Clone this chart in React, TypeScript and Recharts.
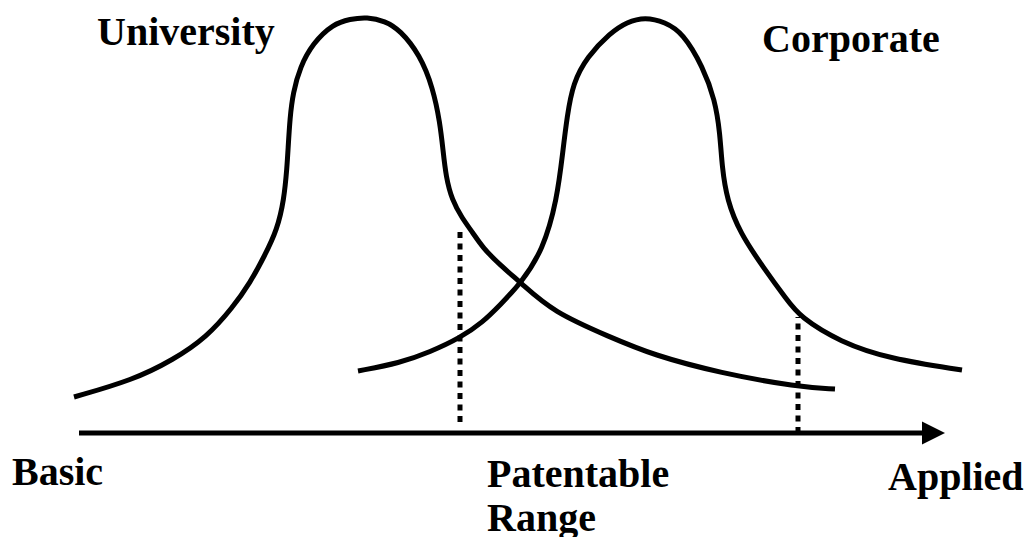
import React from "react";
import { LineChart, Line, XAxis, YAxis, ReferenceLine, Customized } from "recharts";

// Horizontal position along the Basic -> Applied axis
const universityPosition = [74, 133, 173, 207, 233, 250, 265, 277, 284, 287, 288, 290, 293, 300, 313, 333, 350, 367, 385, 400, 420, 433, 440, 443, 446, 452, 462, 473, 483, 500, 521, 553, 610, 653, 720, 798, 835];
// Height of the University curve above the axis
const universityLevel = [36, 53, 73, 96, 126, 150, 178, 203, 233, 266, 283, 316, 340, 366, 390, 409, 414, 416, 412, 403, 378, 345, 310, 283, 256, 233, 215, 200, 185, 168, 150, 121, 96, 78, 60, 46, 44];

const corporatePosition = [358, 400, 430, 460, 483, 500, 521, 543, 557, 563, 567, 573, 587, 610, 627, 645, 665, 683, 703, 715, 720, 722, 727, 740, 763, 787, 800, 840, 890, 962];
const corporateLevel = [62, 70, 81, 95, 111, 128, 150, 183, 233, 283, 316, 350, 376, 400, 411, 416, 411, 400, 366, 333, 300, 266, 233, 200, 166, 133, 116, 91, 74, 63];

// Patentable range boundaries (dotted lines)
const rangeMarkers = [
  { position: 460, bottom: 11, top: 203 },
  { position: 798, bottom: 0, top: 116 },
];

const axisStart = 79;
const axisEnd = 945;

const universityData = universityPosition.map((x, i) => ({ x, y: universityLevel[i] }));
const corporateData = corporatePosition.map((x, i) => ({ x, y: corporateLevel[i] }));

const FONT = "'Liberation Serif', 'Times New Roman', 'DejaVu Serif', serif";

const labels = [
  { text: "University", x: 97, y: 45 },
  { text: "Corporate", x: 762, y: 52 },
  { text: "Basic", x: 12, y: 485 },
  { text: "Patentable", x: 487, y: 487 },
  { text: "Range", x: 487, y: 531 },
  { text: "Applied", x: 888, y: 490 },
];

const Labels = () => (
  <g>
    {labels.map((l) => (
      <text
        key={l.text}
        x={l.x}
        y={l.y}
        style={{ fontFamily: FONT, fontWeight: 700, fontSize: 40 }}
        fill="#000"
      >
        {l.text}
      </text>
    ))}
  </g>
);

const ArrowAxis = (props: any) => {
  const { x1, y1, x2 } = props;
  const head = 23;
  return (
    <g>
      <line x1={x1} y1={y1} x2={x2 - head + 2} y2={y1} stroke="#000" strokeWidth={5} />
      <polygon points={`${x2 - head},${y1 - 11.5} ${x2},${y1} ${x2 - head},${y1 + 11.5}`} fill="#000" />
    </g>
  );
};

export default function App() {
  return (
    <div style={{ position: "absolute", left: 0, top: 0, width: 1030, height: 537, background: "#fff" }}>
      <LineChart width={1030} height={537} margin={{ top: 0, right: 0, bottom: 0, left: 0 }}>
        <XAxis type="number" dataKey="x" domain={[0, 1030]} hide allowDataOverflow />
        <YAxis type="number" domain={[-104, 433]} hide allowDataOverflow />
        <ReferenceLine
          segment={[{ x: axisStart, y: 0 }, { x: axisEnd, y: 0 }]}
          stroke="#000"
          shape={ArrowAxis}
          ifOverflow="visible"
        />
        {rangeMarkers.map((m) => (
          <ReferenceLine
            key={m.position}
            segment={[{ x: m.position, y: m.bottom }, { x: m.position, y: m.top }]}
            stroke="#000"
            strokeWidth={5}
            strokeDasharray="6 5.5"
            ifOverflow="visible"
          />
        ))}
        <Line
          data={universityData}
          dataKey="y"
          type="basis"
          stroke="#000"
          strokeWidth={5}
          dot={false}
          activeDot={false}
          isAnimationActive={false}
        />
        <Line
          data={corporateData}
          dataKey="y"
          type="basis"
          stroke="#000"
          strokeWidth={5}
          dot={false}
          activeDot={false}
          isAnimationActive={false}
        />
        <Customized component={Labels} />
      </LineChart>
    </div>
  );
}
